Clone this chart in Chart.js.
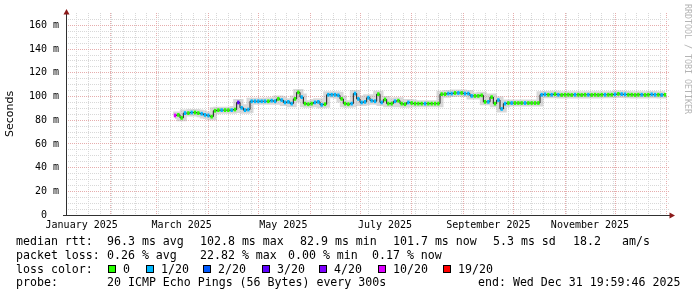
<!DOCTYPE html>
<html>
<head>
<meta charset="utf-8">
<script src="https://cdn.jsdelivr.net/npm/chart.js@4"></script>
<style>
  body { margin: 0; background: #fff; }
  #wrap { position: relative; width: 697px; height: 297px; overflow: hidden; background: #fff; }
  #wrap canvas { position: absolute; left: 0; top: 0; }
  .t { position: absolute; font-family: "DejaVu Sans Mono", monospace; font-size: 11.6px; line-height: 13px; color: #000; white-space: pre; }
  .box { position: absolute; width: 6px; height: 6px; border: 1px solid #000; }
  #credit { position: absolute; left: 683px; top: 4px; writing-mode: vertical-rl; font-family: "DejaVu Sans Mono", monospace; font-size: 8.3px; line-height: 10px; color: #b4b4b4; white-space: pre; }
</style>
</head>
<body>
<div id="wrap">
  <canvas id="smokeChart" width="697" height="297"></canvas>
  <div id="credit">RRDTOOL / TOBI OETIKER</div>

  <span class="t" style="left:16px;top:235px">median rtt:</span>
  <span class="t" style="left:107px;top:235px">96.3 ms avg</span>
  <span class="t" style="left:200px;top:235px">102.8 ms max</span>
  <span class="t" style="left:300px;top:235px">82.9 ms min</span>
  <span class="t" style="left:393px;top:235px">101.7 ms now</span>
  <span class="t" style="left:493px;top:235px">5.3 ms sd</span>
  <span class="t" style="left:573px;top:235px">18.2</span>
  <span class="t" style="left:622px;top:235px">am/s</span>

  <span class="t" style="left:16px;top:248.5px">packet loss:</span>
  <span class="t" style="left:107px;top:248.5px">0.26 % avg</span>
  <span class="t" style="left:200px;top:248.5px">22.82 % max</span>
  <span class="t" style="left:288px;top:248.5px">0.00 % min</span>
  <span class="t" style="left:372px;top:248.5px">0.17 % now</span>

  <span class="t" style="left:16px;top:262.5px">loss color:</span>
  <div id="lossLegend"></div>

  <span class="t" style="left:16px;top:276px">probe:</span>
  <span class="t" style="left:107px;top:276px">20 ICMP Echo Pings (56 Bytes) every 300s</span>
  <span class="t" style="left:478px;top:276px">end: Wed Dec 31 19:59:46 2025</span>
</div>
<script>
// jours comptés depuis le 1er janvier 2025
const firstDay = 70;
const stepDays = 2;

// rtt médian (ms), un point tous les 2 jours
const medianRtt = [
    84, 84.5, 82, 86, 86, 86.5, 86.5, 86, 85.5, 84.5,
    84, 83, 88, 88.5, 88.5, 88.5, 88.5, 88.5, 89, 95,
    90.5, 88.5, 89, 96, 96, 96, 96, 96, 96, 96.5,
    96, 98, 97, 95, 95.5, 94, 98, 103.5, 99.5, 94,
    93.5, 94, 95, 95.5, 93, 93.5, 101.5, 101.5, 101.5, 101,
    98, 94, 93.5, 94, 102.5, 98, 95, 95.5, 99, 96.5,
    96, 102, 95, 97.5, 94, 94, 96, 96.5, 94, 93.5,
    95, 94.5, 94, 94, 94, 94, 94, 94, 94, 94,
    102, 102, 102.5, 102.5, 103, 103, 103, 102.5, 102.5, 100.5,
    100.5, 100.5, 101, 95.5, 95.5, 99.5, 94, 97, 89.5, 94,
    94.5, 94.5, 94.5, 94.5, 94.5, 94.5, 94.5, 94.5, 94.5, 94.5,
    101.5, 101.8, 101.5, 101.5, 102, 101.5, 101.3, 101.5, 101.5, 101.3,
    101.5, 101.5, 101.3, 101.5, 101.5, 101.3, 101.5, 101.3, 101.5, 101.5,
    101.5, 101.5, 101.8, 102.2, 102, 101.8, 101.5, 101.5, 101.3, 101.5,
    101.5, 101.3, 101.5, 101.8, 101.5, 101.5, 101.3, 101.5
];

// pings perdus sur 20 pour chaque point
const lossCount = [
    10, 0, 0, 1, 0, 1, 0, 0, 1, 1,
    1, 0, 0, 0, 1, 0, 0, 1, 0, 3,
    1, 1, 1, 1, 1, 1, 1, 1, 0, 1,
    1, 0, 1, 1, 1, 1, 0, 0, 1, 0,
    0, 0, 1, 1, 1, 0, 1, 1, 1, 1,
    0, 0, 0, 1, 1, 1, 1, 1, 1, 1,
    1, 0, 1, 0, 0, 0, 1, 0, 0, 0,
    1, 0, 0, 0, 0, 1, 0, 0, 0, 0,
    0, 0, 1, 1, 0, 1, 0, 1, 1, 1,
    0, 0, 0, 0, 1, 0, 0, 1, 1, 1,
    0, 1, 0, 0, 0, 1, 0, 0, 0, 0,
    1, 1, 0, 1, 0, 1, 0, 0, 0, 0,
    1, 0, 0, 0, 1, 0, 0, 0, 0, 1,
    0, 0, 1, 0, 1, 1, 0, 0, 0, 0,
    1, 0, 0, 1, 1, 0, 1, 0
];

const lossSteps = [0, 1, 2, 3, 4, 10, 19];
const lossLabels = ["0", "1/20", "2/20", "3/20", "4/20", "10/20", "19/20"];
const lossColors = ["#26ff00", "#00b8ff", "#0059ff", "#5e00ff", "#7e00ff", "#dd00ff", "#ff0000"];

// axe du temps
const monthStarts = [31, 59, 90, 120, 151, 181, 212, 243, 273, 304, 334, 365];
const monthLabelDays = [14, 74, 135, 196, 258, 319];
const monthLabels = ["January 2025", "March 2025", "May 2025", "July 2025", "September 2025", "November 2025"];
const yLabelValues = [0, 20, 40, 60, 80, 100, 120, 140, 160];

const majorGrid = "#e6adad";
const minorGrid = "#d8d8d8";

// légende des couleurs de perte
const legendBoxX = [108, 146, 203, 262, 319, 378, 443];
const lossLegend = document.getElementById("lossLegend");
lossLabels.forEach((lab, i) => {
    const b = document.createElement("div");
    b.className = "box";
    b.style.left = legendBoxX[i] + "px";
    b.style.top = "265px";
    b.style.background = lossColors[i];
    lossLegend.appendChild(b);
    const s = document.createElement("span");
    s.className = "t";
    s.style.left = (legendBoxX[i] + 15) + "px";
    s.style.top = "262.5px";
    s.textContent = lab;
    lossLegend.appendChild(s);
});

function lossColor(n) {
    let c = lossColors[0];
    lossSteps.forEach((st, i) => { if (n >= st) c = lossColors[i]; });
    return c;
}

// ticks de l'axe x : semaines, mois, étiquettes
const xTickMap = new Map();
for (let d = 11; d <= 367; d += 7) xTickMap.set(d, { kind: "minor", label: "" });
monthStarts.forEach(d => xTickMap.set(d, { kind: "major", label: "" }));
monthLabelDays.forEach((d, i) => {
    const t = xTickMap.get(d) || { kind: "none", label: "" };
    t.label = monthLabels[i];
    xTickMap.set(d, t);
});
const xTicks = [...xTickMap.entries()].sort((a, b) => a[0] - b[0]).map(([v, t]) => ({ value: v, kind: t.kind, label: t.label }));

const yTicks = [];
for (let v = 0; v <= 165; v += 5) yTicks.push(v);

const days = medianRtt.map((v, i) => firstDay + i * stepDays);
const linePts = medianRtt.map((v, i) => ({ x: days[i], y: v }));
const chunkPts = medianRtt.map((v, i) => ({ x: days[i], y: [v - 1.3, v + 1.3] }));

const axisArrows = {
    id: "axisArrows",
    afterDatasetsDraw(chart) {
        const { ctx, chartArea: a } = chart;
        const x0 = a.left + 0.5, y0 = a.bottom + 0.5;
        ctx.save();
        ctx.strokeStyle = "#303030";
        ctx.lineWidth = 1;
        ctx.beginPath();
        ctx.moveTo(a.left - 3, y0);
        ctx.lineTo(a.right + 1, y0);
        ctx.moveTo(x0, a.bottom + 1);
        ctx.lineTo(x0, a.top + 1);
        ctx.stroke();
        ctx.fillStyle = "#8b1a1a";
        ctx.beginPath();
        ctx.moveTo(x0, a.top - 4);
        ctx.lineTo(x0 - 3, a.top + 1.5);
        ctx.lineTo(x0 + 3, a.top + 1.5);
        ctx.closePath();
        ctx.fill();
        ctx.beginPath();
        ctx.moveTo(a.right + 5, y0);
        ctx.lineTo(a.right - 0.5, y0 - 3);
        ctx.lineTo(a.right - 0.5, y0 + 3);
        ctx.closePath();
        ctx.fill();
        ctx.restore();
    }
};

const ctx = document.getElementById("smokeChart").getContext("2d");
const smokeChart = new Chart(ctx, {
    type: "line",
    data: {
        datasets: [
            {
                type: "bar",
                data: chunkPts,
                backgroundColor: lossCount.map(lossColor),
                borderWidth: 0,
                barPercentage: 1,
                categoryPercentage: 1,
                order: 1
            },
            {
                data: linePts,
                stepped: "middle",
                borderColor: "#1a1a1a",
                borderWidth: 1,
                pointRadius: 0,
                order: 2
            },
            {
                data: linePts,
                stepped: "middle",
                borderColor: "rgba(170,170,170,0.45)",
                borderWidth: 7,
                pointRadius: 0,
                order: 3
            }
        ]
    },
    options: {
        responsive: false,
        animation: false,
        devicePixelRatio: 1,
        layout: { padding: { top: 12, right: 27, bottom: 64, left: 0 } },
        plugins: { legend: { display: false }, tooltip: { enabled: false } },
        scales: {
            x: {
                type: "linear",
                min: 4.6,
                max: 367,
                offset: false,
                afterBuildTicks: s => { s.ticks = xTicks.map(t => ({ value: t.value })); },
                afterFit: s => { s.height = 18; },
                ticks: {
                    autoSkip: false,
                    maxRotation: 0,
                    padding: 4,
                    color: "#000",
                    font: { family: "DejaVu Sans Mono", size: 10 },
                    callback: (v, i) => xTicks[i].label
                },
                grid: {
                    drawTicks: false,
                    offset: false,
                    color: c => xTicks[c.index] && xTicks[c.index].kind === "major" ? majorGrid : minorGrid,
                    lineWidth: c => xTicks[c.index] && xTicks[c.index].kind !== "none" ? 1 : 0
                },
                border: { display: false, dash: [1, 1] }
            },
            y: {
                min: 0,
                max: 170.5,
                afterBuildTicks: s => { s.ticks = yTicks.map(v => ({ value: v })); },
                afterFit: s => { s.width = 66; },
                ticks: {
                    autoSkip: false,
                    padding: 7,
                    color: "#000",
                    font: { family: "DejaVu Sans Mono", size: 10 },
                    callback: v => yLabelValues.includes(v) ? (v === 0 ? "0  " : v + " m") : ""
                },
                grid: {
                    drawTicks: false,
                    color: c => c.tick.value === 0 ? "rgba(0,0,0,0)" : (c.tick.value % 20 === 0 ? majorGrid : minorGrid)
                },
                border: { display: false, dash: [1, 1] },
                title: {
                    display: true,
                    text: "Seconds",
                    color: "#000",
                    font: { family: "DejaVu Sans", size: 11 },
                    padding: { top: 4, bottom: 0 }
                }
            }
        }
    },
    plugins: [axisArrows]
});
</script>
</body>
</html>
